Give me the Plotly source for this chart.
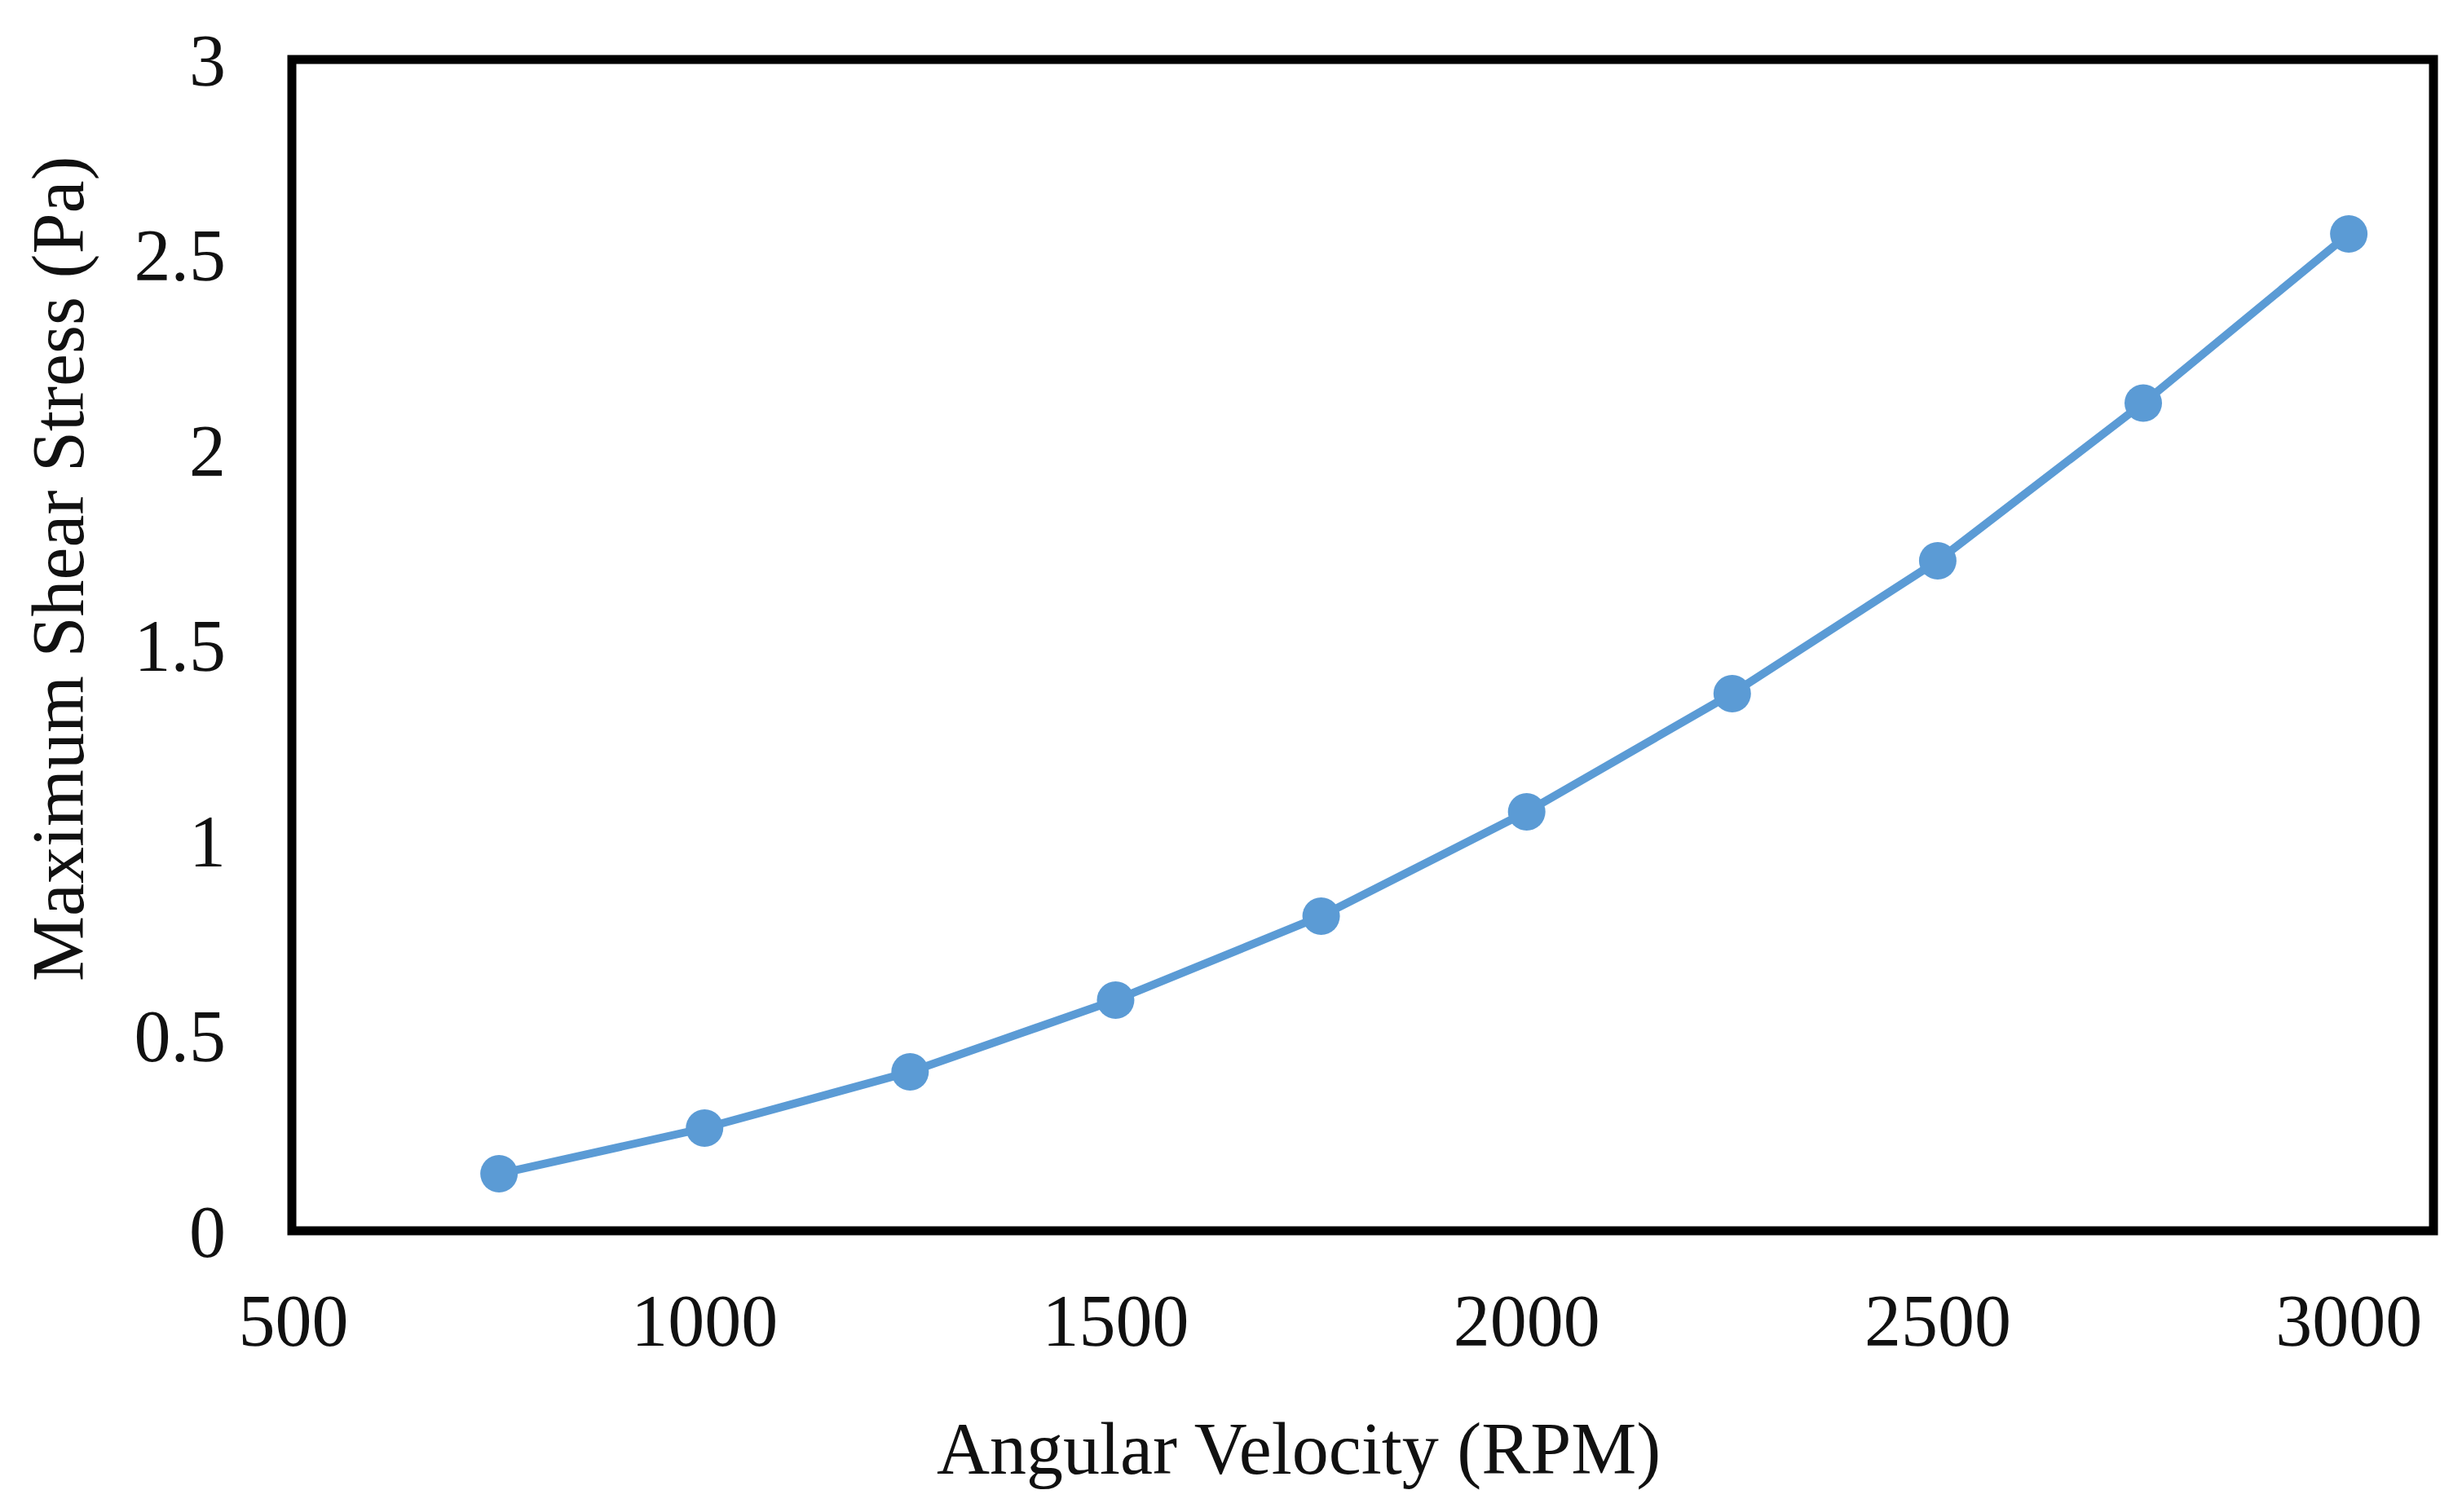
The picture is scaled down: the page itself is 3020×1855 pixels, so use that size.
import plotly.graph_objects as go

# Data
rpm = [750, 1000, 1250, 1500, 1750, 2000, 2250, 2500, 2750, 3000]
shear_stress = [0.146, 0.263, 0.407, 0.591, 0.806, 1.073, 1.376, 1.716, 2.12, 2.553]

x_ticks = [500, 1000, 1500, 2000, 2500, 3000]
x_tick_labels = ["500", "1000", "1500", "2000", "2500", "3000"]
y_ticks = [0, 0.5, 1, 1.5, 2, 2.5, 3]
y_tick_labels = ["0", "0.5", "1", "1.5", "2", "2.5", "3"]

x_title = "Angular Velocity (RPM)"
y_title = "Maximum Shear Stress (Pa)"

W, H = 3020, 1855
L, R, T, B = 358, 2985, 73, 1510
FONT = "Liberation Serif"
TXT = "#111111"
BLUE = "#5B9BD5"

fig = go.Figure()
fig.add_trace(go.Scatter(
    x=rpm, y=shear_stress, mode="lines+markers",
    line=dict(color=BLUE, width=10),
    marker=dict(color=BLUE, size=46),
    showlegend=False, cliponaxis=False,
))

fig.update_layout(
    width=W, height=H,
    margin=dict(l=L, r=W - R, t=T, b=H - B, pad=0),
    paper_bgcolor="white", plot_bgcolor="white",
    font=dict(family=FONT, size=90, color=TXT),
    xaxis=dict(range=[498, 3103], tickvals=x_ticks, ticktext=x_tick_labels,
               showgrid=False, zeroline=False, showline=False, ticks="",
               ticklabelstandoff=50, tickfont=dict(family=FONT, size=90, color=TXT)),
    yaxis=dict(range=[0, 3], tickvals=y_ticks, ticktext=y_tick_labels,
               showgrid=False, zeroline=False, showline=False, ticks="",
               ticklabelstandoff=80, tickfont=dict(family=FONT, size=90, color=TXT)),
    shapes=[dict(type="rect", xref="paper", yref="paper", x0=0, x1=1, y0=0, y1=1,
                 line=dict(color="black", width=11), layer="above")],
    annotations=[
        dict(text=x_title, xref="paper", yref="paper",
             x=(1593 - L) / (R - L), y=(B - 1778) / (B - T),
             xanchor="center", yanchor="middle", showarrow=False,
             font=dict(family=FONT, size=90, color=TXT)),
        dict(text=y_title, xref="paper", yref="paper", textangle=-90,
             x=(72 - L) / (R - L), y=(B - 698) / (B - T),
             xanchor="center", yanchor="middle", showarrow=False,
             font=dict(family=FONT, size=90, color=TXT)),
    ],
)

fig.write_html("out.html",
               config={"displayModeBar": False},
               post_script="document.body.style.margin='0px';document.body.style.overflow='hidden';")
